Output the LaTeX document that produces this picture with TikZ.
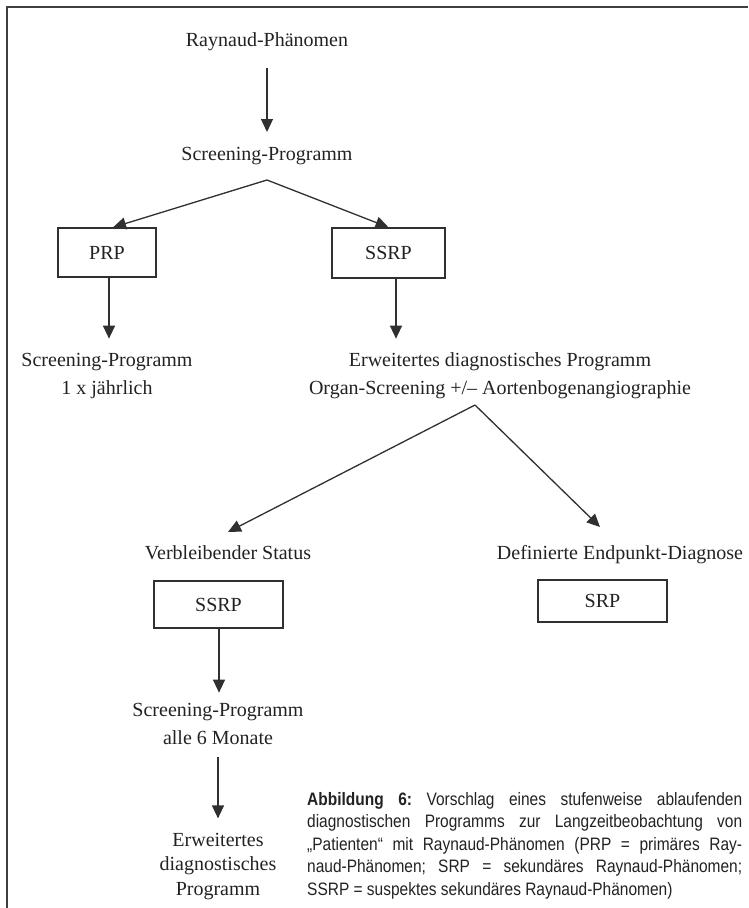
\documentclass[tikz,border=0pt]{standalone}
\usepackage{fontspec}
\setmainfont{Liberation Serif}
\newfontfamily\capfont[FakeStretch=0.86]{Liberation Sans}
\usetikzlibrary{arrows.meta}
\definecolor{inkc}{HTML}{222222}
\definecolor{linec}{HTML}{303030}
\definecolor{framec}{HTML}{404040}
\begin{document}
\begin{tikzpicture}[x=1pt,y=-1pt,
  lbl/.style={font=\fontsize{20}{27}\selectfont, text=inkc, inner sep=0pt, align=center},
  boxn/.style={draw=linec, line width=1.3pt, inner sep=0pt, font=\fontsize{20}{24}\selectfont, text=inkc},
  arr/.style={draw=linec, line width=1.3pt, -{Triangle[length=13pt,width=12pt]}},
  captext/.style={inner sep=0pt, text width=435pt, align=justify, text=inkc, font=\capfont\fontsize{18}{22.5}\selectfont\frenchspacing}
]
\useasboundingbox (0,0) rectangle (748,908);
\draw[framec, line width=2.2pt] (748,7) -- (7,7) -- (7,908);

% nodes (base anchor of a multi-line node = baseline of its last line)
\node[lbl, anchor=base] (t1) at (267,46) {Raynaud-Phänomen};
\node[lbl, anchor=base] (t2) at (267,160) {Screening-Programm};
\node[boxn, minimum width=98pt, minimum height=49pt] (prp) at (107,252.5) {PRP};
\node[boxn, minimum width=113pt, minimum height=50pt] (ssrpa) at (388.5,253) {SSRP};
\node[lbl, anchor=base, font=\fontsize{20}{28}\selectfont] (t3) at (107,394) {Screening-Programm\\1 x jährlich};
\node[lbl, anchor=base, font=\fontsize{20}{28}\selectfont] (t4) at (500,394) {Erweitertes diagnostisches Programm\\Organ-Screening +/– Aortenbogenangiographie};
\node[lbl, anchor=base] (t5) at (228,559.5) {Verbleibender Status};
\node[lbl, anchor=base] (t6) at (620,559.5) {Definierte Endpunkt-Diagnose};
\node[boxn, minimum width=129pt, minimum height=47pt] (ssrpb) at (218.5,604.5) {SSRP};
\node[boxn, minimum width=129pt, minimum height=42pt] (srp) at (602.5,601) {SRP};
\node[lbl, anchor=base, font=\fontsize{20}{27.5}\selectfont] (t7) at (218,744) {Screening-Programm\\alle 6 Monate};
\node[lbl, anchor=base, font=\fontsize{20}{24.5}\selectfont] (t8) at (218,895) {Erweitertes\\diagnostisches\\Programm};
\node[captext, anchor=base west] (cap) at (307,805) {\textbf{Abbildung 6:} Vorschlag eines stufenweise ablaufenden\linebreak diagnostischen Programms zur Langzeitbeobachtung von\linebreak „Patienten“ mit Raynaud-Phänomen (PRP = primäres Ray-\linebreak naud-Phänomen; SRP = sekundäres Raynaud-Phänomen;\linebreak SSRP = suspektes sekundäres Raynaud-Phänomen)};

% branch points
\coordinate (ap1) at (267,180);
\coordinate (ap2) at (475,405);

% connectors
\draw[arr] ([yshift=-22pt]t1.base) -- ([yshift=28pt]t2.base);
\draw[arr] (ap1) -- ([xshift=6pt]prp.north);
\draw[arr] (ap1) -- (ssrpa.north);
\draw[arr] ([xshift=2pt]prp.south) -- ++(0,61);
\draw[arr] ([xshift=7.5pt]ssrpa.south) -- ++(0,60);
\draw[arr] (ap2) -- ([yshift=27.5pt]t5.base);
\draw[arr] (ap2) -- ([xshift=-20pt,yshift=32.5pt]t6.base);
\draw[arr] ([xshift=0.5pt]ssrpb.south) -- ++(0,64);
\draw[arr] ([yshift=-13pt]t7.south) -- ++(0,61);
\end{tikzpicture}
\end{document}
